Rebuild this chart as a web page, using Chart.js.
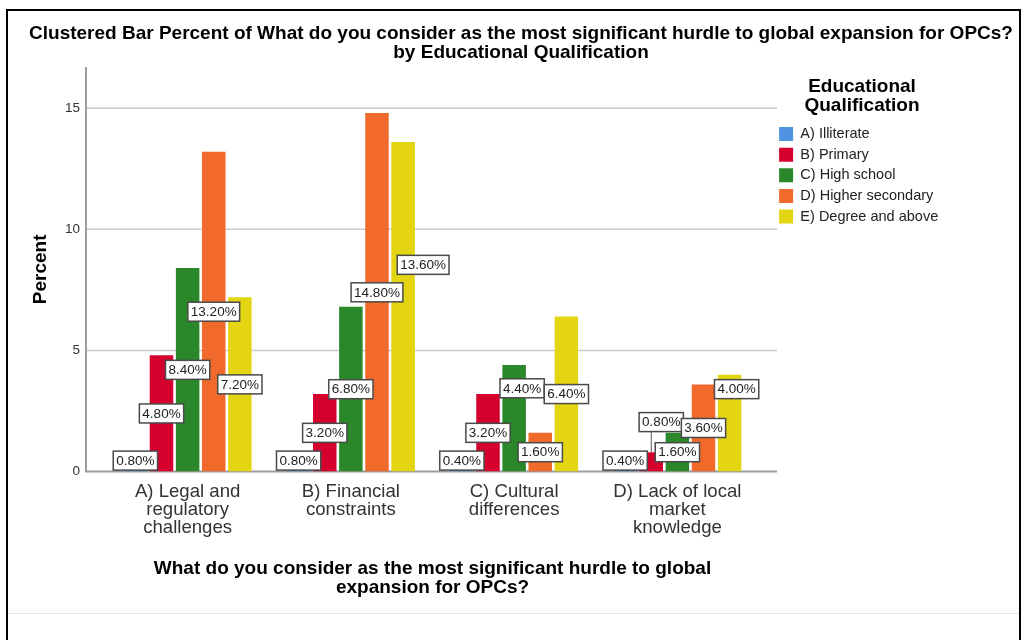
<!DOCTYPE html>
<html>
<head>
<meta charset="utf-8">
<script src="https://cdn.jsdelivr.net/npm/chart.js@4.4.1/dist/chart.umd.min.js"></script>
<style>
  html, body { margin: 0; padding: 0; background: #fff; }
  #frame { position: absolute; left: 6px; top: 9px; width: 1011px; height: 700px; border: 2px solid #000; }
  #sep { position: absolute; left: 8px; top: 613px; width: 1011px; height: 1px; background: #e6e6e6; }
  #wrap { position: absolute; left: 0; top: 0; width: 1025px; height: 640px; }
</style>
</head>
<body>
<div id="frame"></div>
<div id="sep"></div>
<div id="wrap"><canvas id="hurdleChart"></canvas></div>
<script>
// Hurdle categories (x axis) and education groups (series)
const categories = [
    ['A) Legal and', 'regulatory', 'challenges'],
    ['B) Financial', 'constraints'],
    ['C) Cultural', 'differences'],
    ['D) Lack of local', 'market', 'knowledge']
];
const qualifications = ['A) Illiterate', 'B) Primary', 'C) High school', 'D) Higher secondary', 'E) Degree and above'];

// Percent of respondents
const illiterate = [0.8, 0.8, 0.4, 0.4];
const primary = [4.8, 3.2, 3.2, 0.8];
const highSchool = [8.4, 6.8, 4.4, 1.6];
const higherSecondary = [13.2, 14.8, 1.6, 3.6];
const degreeAndAbove = [7.2, 13.6, 6.4, 4.0];

const yTicks = [0, 5, 10, 15];
const yMax = 16.7;

const seriesColors = ['#4f93e2', '#d6002f', '#2a872a', '#f26a2b', '#e3d512'];

const FONT = "'Liberation Sans', Arial, sans-serif";
Chart.defaults.font.family = FONT;

// some value labels are moved off the middle of their bar so they don't collide
const labelNudges = {
    '4-1': { dx: 20, dy: -42 },
    '2-2': { dx: 8, dy: -30 },
    '1-3': { dx: 10, dy: -38.5, leader: true },
    '4-3': { dx: 7, dy: -34 }
};

// axis line and grid lines run a little past the bar area on both sides
const axisLines = {
    id: 'axisLines',
    beforeDatasetsDraw(chart) {
        const { ctx, chartArea, scales: { y } } = chart;
        const x0 = chartArea.left - 20;
        const x1 = chartArea.right + 18;
        const zero = y.getPixelForValue(0);
        ctx.save();
        ctx.strokeStyle = '#cbcbcb';
        ctx.lineWidth = 1.5;
        yTicks.filter(v => v > 0).forEach(v => {
            const py = y.getPixelForValue(v);
            ctx.beginPath();
            ctx.moveTo(x0, py);
            ctx.lineTo(x1, py);
            ctx.stroke();
        });
        ctx.strokeStyle = '#9c9c9c';
        ctx.lineWidth = 2;
        ctx.beginPath();
        ctx.moveTo(x0, chartArea.top);
        ctx.lineTo(x0, zero);
        ctx.lineTo(x1, zero);
        ctx.stroke();
        ctx.restore();
    }
};

// boxed percent labels at the middle of each bar
const valueBoxes = {
    id: 'valueBoxes',
    afterDatasetsDraw(chart) {
        const ctx = chart.ctx;
        const boxH = 19;
        ctx.save();
        ctx.font = '13.5px ' + FONT;
        ctx.textAlign = 'center';
        ctx.textBaseline = 'middle';
        chart.data.datasets.forEach((ds, di) => {
            const meta = chart.getDatasetMeta(di);
            meta.data.forEach((bar, i) => {
                const text = ds.data[i].toFixed(2) + '%';
                const w = ctx.measureText(text).width + 6;
                let cy = Math.min((bar.y + bar.base) / 2, bar.base - 1.5 - boxH / 2);
                let cx = bar.x;
                const nudge = labelNudges[di + '-' + i];
                if (nudge) {
                    cx += nudge.dx;
                    cy += nudge.dy;
                    if (nudge.leader) {
                        ctx.strokeStyle = '#555';
                        ctx.lineWidth = 1;
                        ctx.beginPath();
                        ctx.moveTo(bar.x, cy + boxH / 2);
                        ctx.lineTo(bar.x, bar.y);
                        ctx.stroke();
                    }
                }
                ctx.fillStyle = '#fff';
                ctx.fillRect(cx - w / 2, cy - boxH / 2, w, boxH);
                ctx.strokeStyle = '#4a4a4a';
                ctx.lineWidth = 1.5;
                ctx.strokeRect(cx - w / 2, cy - boxH / 2, w, boxH);
                ctx.fillStyle = '#222';
                ctx.fillText(text, cx, cy + 0.5);
            });
        });
        ctx.restore();
    }
};

// legend sits to the right of the plot, title spans the framed area
const placeBlocks = {
    id: 'placeBlocks',
    afterInit(chart) {
        const legend = chart.legend;
        const fit = legend.fit;
        legend.fit = function () {
            fit.call(this);
            this.width = 266;
        };
    },
    afterLayout(chart) {
        const lg = chart.legend;
        lg.left = 773;
        lg.right = 951;
        lg.width = 178;
        const tb = chart.titleBlock;
        tb.left = 17;
        tb.right = 1025;
        tb.width = 1008;
    }
};

const ctx = document.getElementById('hurdleChart').getContext('2d');
const hurdleChart = new Chart(ctx, {
    type: 'bar',
    data: {
        labels: categories,
        datasets: [illiterate, primary, highSchool, higherSecondary, degreeAndAbove].map((values, k) => ({
            label: qualifications[k],
            data: values,
            backgroundColor: seriesColors[k],
            borderWidth: 0,
            categoryPercentage: 0.8,
            barPercentage: 0.9
        }))
    },
    options: {
        responsive: true,
        maintainAspectRatio: false,
        animation: false,
        devicePixelRatio: 1,
        layout: { padding: { left: 10, right: 0, top: 0, bottom: 0 } },
        plugins: {
            title: {
                display: true,
                text: ['Clustered Bar Percent of What do you consider as the most significant hurdle to global expansion for OPCs?',
                       'by Educational Qualification'],
                color: '#000',
                font: { size: 19, weight: 'bold', lineHeight: 1.0 },
                padding: { top: 24, bottom: 5 }
            },
            legend: {
                position: 'right',
                align: 'start',
                fullSize: false,
                title: {
                    display: true,
                    text: ['Educational', 'Qualification'],
                    color: '#000',
                    font: { size: 19, weight: 'bold', lineHeight: 1.0 },
                    padding: { top: 10.5, bottom: 24.25 }
                },
                labels: {
                    boxWidth: 14,
                    boxHeight: 14,
                    padding: 6.1,
                    color: '#222',
                    font: { size: 14.5 }
                }
            },
            tooltip: { enabled: false }
        },
        scales: {
            x: {
                grid: { display: false, drawTicks: false },
                border: { display: false },
                ticks: {
                    color: '#333',
                    padding: 11.4,
                    maxRotation: 0,
                    font: { size: 18.6, lineHeight: 0.968 }
                },
                title: {
                    display: true,
                    text: ['What do you consider as the most significant hurdle to global', 'expansion for OPCs?'],
                    color: '#000',
                    font: { size: 19, weight: 'bold', lineHeight: 1.0 },
                    padding: { top: 0, bottom: 42.5 }
                },
                afterFit(scale) { scale.height = 168.4; }
            },
            y: {
                min: 0,
                max: yMax,
                grid: { display: false, drawTicks: false },
                border: { display: false },
                afterBuildTicks(scale) { scale.ticks = yTicks.map(value => ({ value })); },
                ticks: {
                    color: '#333',
                    padding: 26,
                    font: { size: 13.5 }
                },
                title: {
                    display: true,
                    text: 'Percent',
                    color: '#000',
                    font: { size: 19, weight: 'bold', lineHeight: 1.2 },
                    padding: { top: 19, bottom: 0 }
                },
                afterFit(scale) { scale.width = 96; }
            }
        }
    },
    plugins: [axisLines, valueBoxes, placeBlocks]
});
</script>
</body>
</html>
